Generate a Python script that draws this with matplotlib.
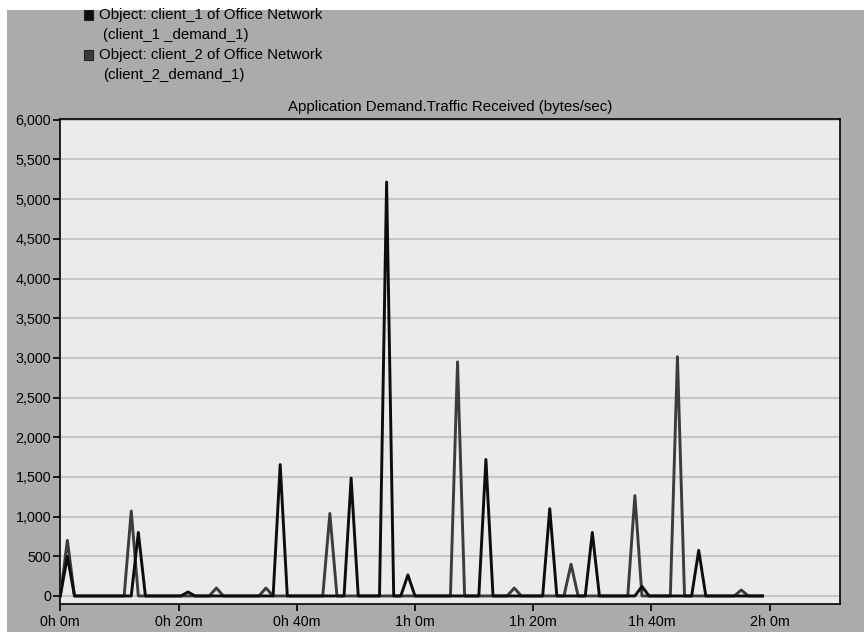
import numpy as np
import matplotlib.pyplot as plt
from matplotlib.patches import Rectangle

# OPNET style: 100 samples over 2 hours -> one value every 1.2 min
sample_step = 1.2
n_samples = 100

# peaks (sample index, bytes/sec); everything else is 0
client_1_idx = [1, 11, 18, 31, 41, 46, 49, 60, 69, 75, 82, 90]
client_1_val = [500, 800, 50, 1655, 1485, 5215, 265, 1720, 1100, 800, 120, 575]
client_2_idx = [1, 10, 22, 29, 38, 56, 64, 72, 81, 87, 96]
client_2_val = [700, 1070, 100, 100, 1040, 2950, 100, 400, 1265, 3015, 75]

x_ticks = [0, 20, 40, 60, 80, 100, 120]
x_labels = ["0h 0m", "0h 20m", "0h 40m", "1h 0m", "1h 20m", "1h 40m", "2h 0m"]
y_ticks = list(range(0, 6001, 500))

t = np.arange(n_samples) * sample_step
c1 = np.zeros(n_samples)
c1[client_1_idx] = client_1_val
c2 = np.zeros(n_samples)
c2[client_2_idx] = client_2_val

plt.rcParams['font.family'] = ['Liberation Sans', 'DejaVu Sans']

fig = plt.figure(figsize=(8.64, 6.34), dpi=100)
fig.patch.set_facecolor("white")
# grey panel behind everything
fig.patches.append(Rectangle((7 / 864, 2 / 634), 857 / 864, 622 / 634,
                             transform=fig.transFigure, facecolor="#ababab",
                             edgecolor="none", zorder=-10))

ax = fig.add_axes([60.3 / 864, 30.5 / 634, 779.7 / 864, 484.5 / 634])
ax.set_facecolor("#ebebeb")

ax.plot(t, c2, color="#3c3c3c", lw=2.1, zorder=3)
ax.plot(t, c1, color="#0d0d0d", lw=2.1, zorder=4)

ax.set_xlim(0, 131.9)
ax.set_ylim(-95, 6010)
ax.set_xticks(x_ticks)
ax.set_xticklabels(x_labels)
ax.set_yticks(y_ticks)
ax.set_yticklabels([f"{v:,}" for v in y_ticks])
ax.tick_params(axis="both", labelsize=10.3, length=5, width=1.2, color="black", direction="out")
ax.tick_params(axis="y", pad=1.5)
ax.tick_params(axis="x", pad=3)
ax.grid(axis="y", color="#c6c6c6", lw=1.5, zorder=1)
ax.set_axisbelow(True)
for s in ax.spines.values():
    s.set_color("black")
    s.set_linewidth(1.2)

fig.text(450 / 864, 1 - 107 / 634, "Application Demand.Traffic Received (bytes/sec)",
         ha="center", va="center", fontsize=10.8)

# legend, drawn by hand like the OPNET panel
legend_rows = [
    ("#0d0d0d", "Object: client_1 of Office Network", "(client_1 _demand_1)", 15),
    ("#3c3c3c", "Object: client_2 of Office Network", "(client_2_demand_1)", 55),
]
for col, line1, line2, y in legend_rows:
    fig.patches.append(Rectangle((84 / 864, 1 - (y + 4.5) / 634), 8.5 / 864, 9 / 634,
                                 transform=fig.transFigure, facecolor=col,
                                 edgecolor="#222222", lw=0.8))
    fig.text(99 / 864, 1 - y / 634, line1, ha="left", va="center", fontsize=10.8)
    fig.text(103 / 864, 1 - (y + 20) / 634, line2, ha="left", va="center", fontsize=10.8)

fig.savefig("out.png", dpi=100)
